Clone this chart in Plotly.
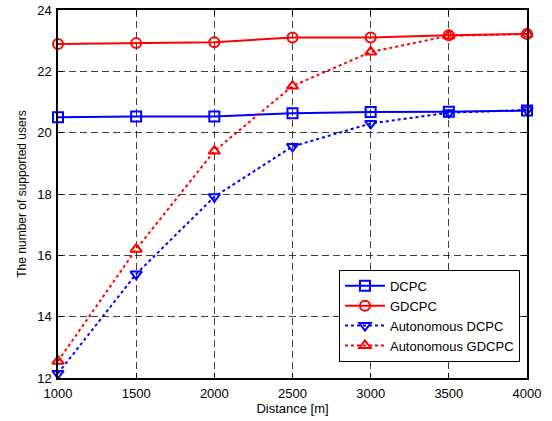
import plotly.graph_objects as go

distance = [1000, 1500, 2000, 2500, 3000, 3500, 4000]
dcpc = [20.50, 20.53, 20.53, 20.63, 20.67, 20.68, 20.72]
gdcpc = [22.89, 22.92, 22.95, 23.10, 23.10, 23.18, 23.22]
auto_dcpc = [12.15, 15.39, 17.91, 19.55, 20.30, 20.65, 20.74]
auto_gdcpc = [12.55, 16.20, 19.40, 21.52, 22.63, 23.16, 23.22]

x_ticks = [1000, 1500, 2000, 2500, 3000, 3500, 4000]
y_ticks = [12, 14, 16, 18, 20, 22, 24]

fig = go.Figure()
series = [
    ("DCPC", dcpc, "#0000ff", "solid", "square-open"),
    ("GDCPC", gdcpc, "#ff0000", "solid", "circle-open"),
    ("Autonomous DCPC", auto_dcpc, "#0000ff", "dot", "triangle-down-open"),
    ("Autonomous GDCPC", auto_gdcpc, "#ff0000", "dot", "triangle-up-open"),
]
for name, ys, col, dash, sym in series:
    fig.add_trace(go.Scatter(
        x=distance, y=ys, name=name, mode="lines+markers",
        line=dict(color=col, width=2, dash=dash),
        marker=dict(symbol=sym, size=10, color=col, line=dict(width=2, color=col)),
        cliponaxis=False,
    ))

axis_common = dict(
    showline=True, linecolor="black", linewidth=1.5, mirror="ticks",
    ticks="inside", ticklen=5, tickcolor="black",
    showgrid=True, gridcolor="rgba(0,0,0,0.75)", griddash="7px,4px", gridwidth=1,
    zeroline=False, automargin=False,
    tickfont=dict(family="Liberation Sans, Arial", size=13, color="black"),
)

fig.update_layout(
    width=552, height=421,
    margin=dict(l=58, r=25, t=10, b=43),
    plot_bgcolor="white", paper_bgcolor="white",
    font=dict(family="Liberation Sans, Arial", size=12, color="black"),
    xaxis=dict(range=[1000, 4000], tickvals=x_ticks, ticklabelstandoff=3,
               title=dict(text="Distance [m]", font=dict(size=13), standoff=2), **axis_common),
    yaxis=dict(range=[12, 24], tickvals=y_ticks, ticklabelstandoff=2,
               title=dict(text="The number of supported users", font=dict(size=12), standoff=8), **axis_common),
    legend=dict(x=0.985, y=0.044, xanchor="right", yanchor="bottom",
                bgcolor="white", bordercolor="black", borderwidth=1,
                font=dict(size=13), tracegroupgap=0, itemwidth=40),
    showlegend=True,
)

fig.write_html(
    "out.html",
    config={"displayModeBar": False},
    post_script="document.body.style.margin='0';document.body.style.padding='0';",
)
